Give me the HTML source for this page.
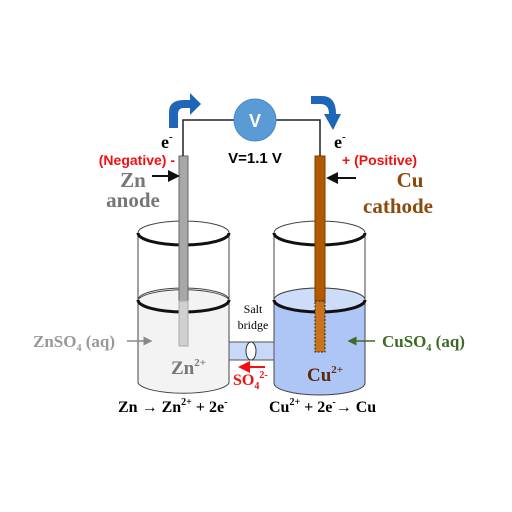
<!DOCTYPE html>
<html><head><meta charset="utf-8"><style>
body{margin:0;background:#fff}
svg{display:block}
.sf{font-family:"Liberation Serif",serif;font-weight:bold}
.ss{font-family:"Liberation Sans",sans-serif;font-weight:bold}
</style></head><body>
<svg width="512" height="512" viewBox="0 0 512 512">
<defs><marker id="ah" markerWidth="6" markerHeight="6" refX="5" refY="3" orient="auto"><path d="M0,0L6,3L0,6z" fill="context-stroke"/></marker></defs>
<g>
<path d="M138,300 L138,383 A46,12 0 0 0 229,383 L229,300 A46,12 0 0 0 138,300z" fill="#f3f3f3" stroke="#444" stroke-width="1"/>
<line x1="138" y1="233" x2="138" y2="300" stroke="#444"/><line x1="229" y1="233" x2="229" y2="300" stroke="#444"/>
<ellipse cx="183.5" cy="233" rx="45.5" ry="12" fill="none" stroke="#444" stroke-width="1"/>
<path d="M138,233 A45.5,12 0 0 0 229,233" fill="none" stroke="#111" stroke-width="3"/>
<ellipse cx="183.5" cy="300" rx="45.5" ry="12" fill="none" stroke="#444"/>
<path d="M138,300 A45.5,12 0 0 0 229,300" fill="none" stroke="#111" stroke-width="3"/>
</g>
<g>
<path d="M274,300 L274,383 A45.5,12 0 0 0 365,383 L365,300 A45.5,12 0 0 0 274,300z" fill="#aec6f5" stroke="#444"/>
<ellipse cx="319.5" cy="300" rx="45.5" ry="12" fill="#cddcf8" stroke="#444"/>
<line x1="274" y1="233" x2="274" y2="300" stroke="#444"/><line x1="365" y1="233" x2="365" y2="300" stroke="#444"/>
<ellipse cx="319.5" cy="233" rx="45.5" ry="12" fill="none" stroke="#444"/>
<path d="M274,233 A45.5,12 0 0 0 365,233" fill="none" stroke="#111" stroke-width="3"/>
<path d="M274,300 A45.5,12 0 0 0 365,300" fill="none" stroke="#111" stroke-width="3"/>
</g>
<rect x="179" y="156" width="9" height="145" fill="#a8a8a8" stroke="#666"/>
<rect x="179" y="301" width="9" height="45" fill="#d0d0d0" stroke="#aaa"/>
<rect x="315" y="156" width="10" height="145" fill="#b35a00" stroke="#7a3d00"/>
<rect x="315" y="301" width="10" height="51" fill="#c9741c" stroke="#222" stroke-dasharray="2,1.5"/>
<path d="M183,156 V120 H320 V156" fill="none" stroke="#222" stroke-width="1.5"/>
<g><circle cx="255" cy="120" r="21" fill="#5b9bd5" stroke="#4a86c0"/>
<text x="255" y="127" text-anchor="middle" class="ss" font-size="18" fill="#fff">V</text></g>
<path d="M169,128 L169,112 Q169,100 184,100 L190,100 L190,93 L201,104 L190,115 L190,108 L184,108 Q178,108 178,114 L178,128z" fill="#1f66b8"/>
<path d="M311,96 L322,96 Q336,96 336,114 L341,114 L333,130 L324,114 L329,114 Q329,104 320,104 L311,104z" fill="#1f66b8"/>
<text x="161" y="148" class="sf" font-size="18">e<tspan font-size="11" dy="-8">-</tspan></text>
<text x="334" y="148" class="sf" font-size="18">e<tspan font-size="11" dy="-8">-</tspan></text>
<text x="175" y="165" text-anchor="end" class="ss" font-size="14" fill="#f01010">(Negative) -</text>
<text x="342" y="165" class="ss" font-size="14" fill="#f01010">+ (Positive)</text>
<text x="255" y="163" text-anchor="middle" class="ss" font-size="15">V=1.1 V</text>
<text x="133" y="187" text-anchor="middle" class="sf" font-size="21" fill="#777">Zn</text>
<text x="133" y="207" text-anchor="middle" class="sf" font-size="21" fill="#777">anode</text>
<line x1="152" y1="176" x2="178" y2="176" stroke="#111" stroke-width="2" marker-end="url(#ah)"/>
<text x="410" y="187" text-anchor="middle" class="sf" font-size="21" fill="#8b4a0c">Cu</text>
<text x="398" y="213" text-anchor="middle" class="sf" font-size="21" fill="#8b4a0c">cathode</text>
<line x1="356" y1="178" x2="328" y2="178" stroke="#111" stroke-width="2" marker-end="url(#ah)"/>
<g>
<rect x="229" y="342" width="45" height="18" fill="#c8d8f8" stroke="#555"/>
<ellipse cx="251" cy="351" rx="5" ry="9" fill="#fff" stroke="#333"/>
</g>
<text x="253" y="313" text-anchor="middle" font-family="Liberation Serif,serif" font-size="12">Salt</text>
<text x="253" y="329" text-anchor="middle" font-family="Liberation Serif,serif" font-size="12">bridge</text>
<line x1="265" y1="367" x2="240" y2="367" stroke="#f01010" stroke-width="2" marker-end="url(#ah)"/>
<text x="233" y="385" class="sf" font-size="16" fill="#f01010">SO<tspan font-size="10" dy="4">4</tspan><tspan font-size="10" dy="-11">2-</tspan></text>
<text x="33" y="347" class="sf" font-size="17" fill="#999">ZnSO<tspan font-size="10" dy="4">4</tspan><tspan dy="-4"> (aq)</tspan></text>
<line x1="127" y1="341" x2="151" y2="341" stroke="#888" stroke-width="1.5" marker-end="url(#ah)"/>
<text x="382" y="347" class="sf" font-size="17" fill="#3d6b25">CuSO<tspan font-size="10" dy="4">4</tspan><tspan dy="-4"> (aq)</tspan></text>
<line x1="375" y1="341" x2="349" y2="341" stroke="#3d6b25" stroke-width="1.5" marker-end="url(#ah)"/>
<text x="171" y="374" class="sf" font-size="19" fill="#777">Zn<tspan font-size="11" dy="-8">2+</tspan></text>
<text x="307" y="381" class="sf" font-size="19" fill="#5a2a10">Cu<tspan font-size="11" dy="-8">2+</tspan></text>
<text x="118" y="412" class="sf" font-size="16">Zn → Zn<tspan font-size="10" dy="-7">2+</tspan><tspan dy="7"> + 2e</tspan><tspan font-size="10" dy="-7">-</tspan></text>
<text x="269" y="412" class="sf" font-size="16">Cu<tspan font-size="10" dy="-7">2+</tspan><tspan dy="7"> + 2e</tspan><tspan font-size="10" dy="-7">-</tspan><tspan dy="7">→ Cu</tspan></text>
</svg>
</body></html>
